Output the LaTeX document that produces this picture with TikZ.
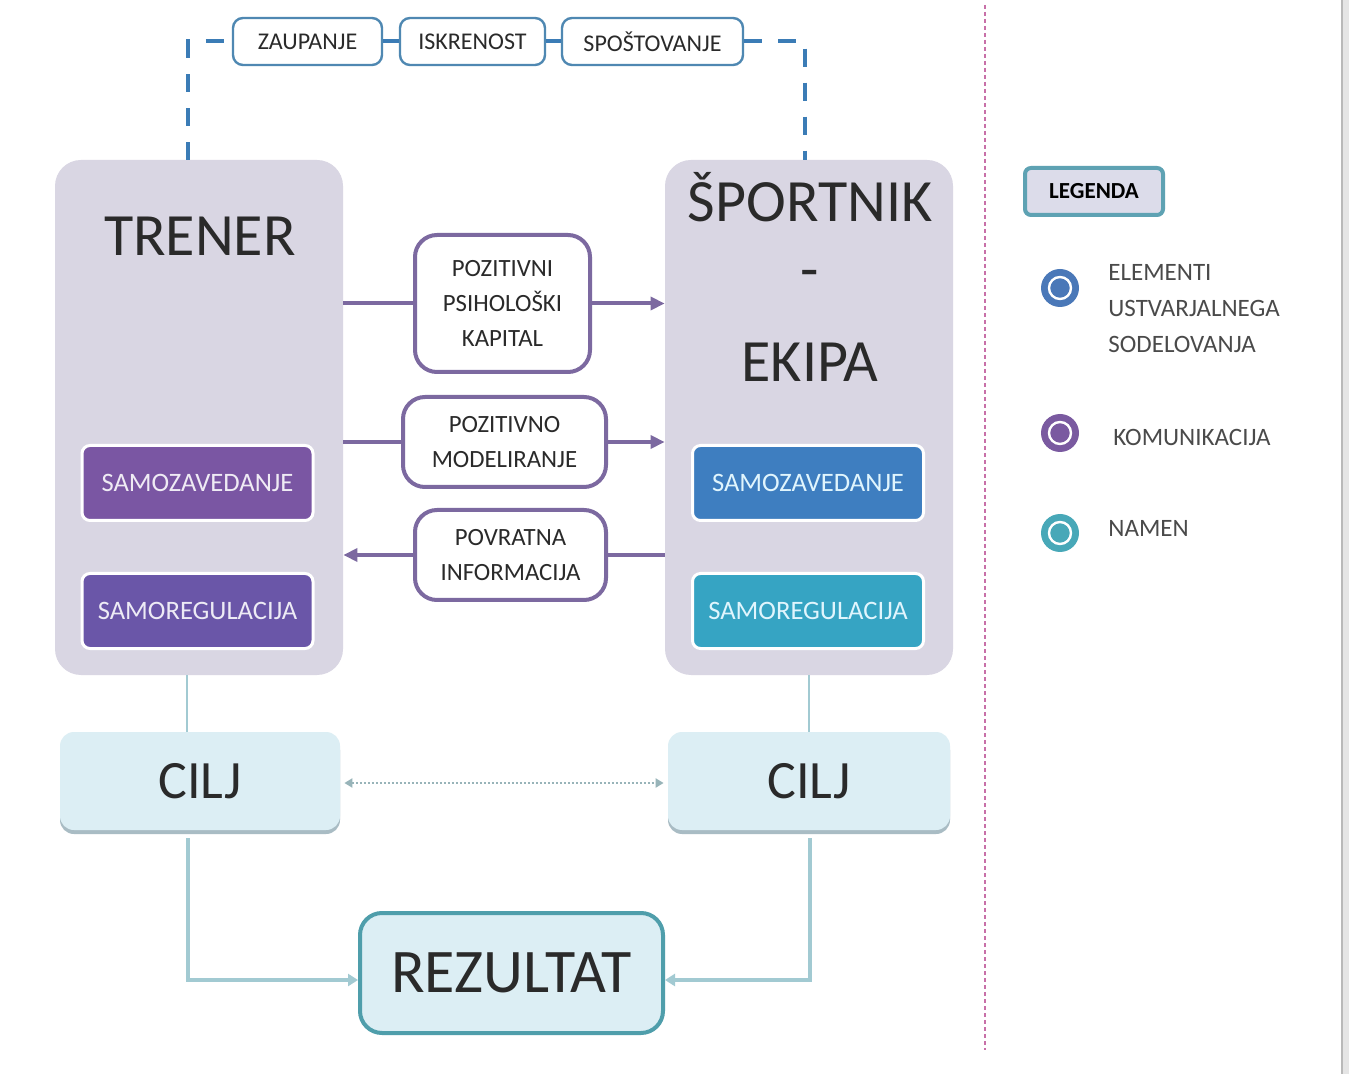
\documentclass[tikz,border=0pt]{standalone}
\usepackage{fontspec}
\setmainfont{Carlito}
\usetikzlibrary{arrows.meta,calc}
\definecolor{lav}{HTML}{D9D6E3}
\definecolor{purA}{HTML}{7A56A3}
\definecolor{purB}{HTML}{6A56A8}
\definecolor{bluA}{HTML}{3E7EC0}
\definecolor{tealA}{HTML}{36A4C3}
\definecolor{midb}{HTML}{7C69A0}
\definecolor{cilf}{HTML}{DCEEF4}
\definecolor{cils}{HTML}{A9BCC4}
\definecolor{ltc}{HTML}{A2CAD2}
\definecolor{topc}{HTML}{3B7CB6}
\definecolor{topb}{HTML}{4F88B2}
\definecolor{magd}{HTML}{C870A8}
\definecolor{rezb}{HTML}{4F9EAB}
\definecolor{legf}{HTML}{DCDCEA}
\definecolor{legb}{HTML}{5EA2B3}
\definecolor{txt}{HTML}{2A2A2A}
\definecolor{lgblue}{HTML}{4A78B8}
\definecolor{lgpur}{HTML}{7A5AA0}
\definecolor{lgteal}{HTML}{48A8B8}
\tikzset{
  bigbox/.style={rectangle, rounded corners=13pt, fill=lav, minimum width=144pt, minimum height=257.5pt},
  samo/.style={rectangle, rounded corners=4pt, draw=white, line width=1.5pt, minimum width=115.5pt, minimum height=37.5pt, font=\fontsize{13.3}{16}\selectfont},
  midbox/.style={rectangle, rounded corners=11pt, draw=midb, line width=2pt, fill=white, align=center, text=txt, font=\fontsize{12.4}{17.5}\selectfont},
  topbox/.style={rectangle, rounded corners=5pt, draw=topb, line width=1.2pt, fill=white, minimum height=23.5pt, font=\fontsize{12}{14}\selectfont, text=txt},
  ciljbox/.style={rectangle, rounded corners=7pt, fill=cilf, minimum width=140pt, minimum height=49pt, font=\fontsize{27}{30}\selectfont, text=txt,
     preaction={fill=cils, transform canvas={yshift=-2pt}}},
  bigtxt/.style={font=\fontsize{30}{40}\selectfont, text=txt, align=center},
  parr/.style={draw=midb, line width=2pt, -{Triangle[length=7pt,width=6.5pt]}},
  tdash/.style={draw=topc, line width=2pt, dash pattern=on 9pt off 8pt},
  tsolid/.style={draw=topc, line width=2pt},
  lt/.style={draw=ltc, line width=1pt},
  ltarr/.style={draw=ltc, line width=2pt, -{Triangle[length=5pt,width=6pt]}},
  dotarr/.style={draw=ltc!70!gray, line width=1pt, dash pattern=on 1pt off 1pt, {Triangle[length=4pt,width=4.5pt]}-{Triangle[length=4pt,width=4.5pt]}},
  legdot/.style={circle, fill=#1, minimum size=19pt, inner sep=0pt,
     path picture={\draw[white, line width=1.2pt] (path picture bounding box.center) circle (5.5pt);}},
  legtxt/.style={anchor=west, align=left, inner sep=0pt, text=txt!85, font=\fontsize{12.5}{18}\selectfont}
}
\begin{document}
\begin{tikzpicture}[x=0.5pt,y=-0.5pt]
\useasboundingbox (0,0) rectangle (1349,1074);
\fill[white] (0,0) rectangle (1349,1074);
\fill[gray!20] (1342,0) rectangle (1349,1074);
\draw[gray!55, line width=1pt] (1342,0) -- (1342,1074);

% main boxes
\node[bigbox] (trener) at (199,417.5) {};
\node[bigbox] (sport) at (809,417.5) {};
\node[bigtxt] (trenerT) at (200,236.5) {TRENER};
\node[bigtxt] (sportT) at (810,277) {ŠPORTNIK\\[-6pt]-\\[6pt]EKIPA};

\node[samo, fill=purA, text=white!88!purA] (sz1) at (197.5,483) {SAMOZAVEDANJE};
\node[samo, fill=purB, text=white!88!purB] (sr1) at (197.5,611) {SAMOREGULACIJA};
\node[samo, fill=bluA, text=white!88!cyan] (sz2) at (808,483) {SAMOZAVEDANJE};
\node[samo, fill=tealA, text=white!88!cyan] (sr2) at (808,611) {SAMOREGULACIJA};

% middle boxes
\node[midbox, minimum width=87.5pt, minimum height=68.5pt] (ppk) at (502.5,303.5) {POZITIVNI\\PSIHOLOŠKI\\KAPITAL};
\node[midbox, minimum width=101.5pt, minimum height=45pt] (pm) at (504.5,442) {POZITIVNO\\MODELIRANJE};
\node[midbox, minimum width=95.5pt, minimum height=45pt] (pi) at (510.5,555) {POVRATNA\\INFORMACIJA};

\draw[midb, line width=2pt] (trener.east |- ppk.west) -- (ppk.west);
\draw[parr] (ppk.east) -- (sport.west |- ppk.east);
\draw[midb, line width=2pt] (trener.east |- pm.west) -- (pm.west);
\draw[parr] (pm.east) -- (sport.west |- pm.east);
\draw[midb, line width=2pt] (sport.west |- pi.east) -- (pi.east);
\draw[parr] (pi.west) -- (trener.east |- pi.west);

% top boxes
\node[topbox, minimum width=74.5pt] (zau) at (307.5,41.5) {ZAUPANJE};
\node[topbox, minimum width=72.5pt] (isk) at (472.5,41.5) {ISKRENOST};
\node[topbox, minimum width=90.5pt] (spo) at (652.5,41.5) {SPOŠTOVANJE};
\draw[tdash] ([xshift=-5.5pt]trener.north) |- (zau.west);
\draw[tsolid] (zau.east) -- (isk.west);
\draw[tsolid] (isk.east) -- (spo.west);
\draw[tdash] (spo.east) -| ([xshift=-2pt]sport.north);

% CILJ
\node[ciljbox] (cilj1) at (200,781) {CILJ};
\node[ciljbox, minimum width=141pt] (cilj2) at (809,781) {CILJ};
\draw[lt] ([xshift=-6pt]trener.south) -- ([xshift=-6pt]trener.south |- cilj1.north);
\draw[lt] (sport.south) -- (sport.south |- cilj2.north);
\draw[dotarr, shorten <=2pt, shorten >=2pt] ([yshift=-1pt]cilj1.east) -- ([yshift=-1pt]cilj1.east -| cilj2.west);

% REZULTAT
\node[rectangle, rounded corners=11pt, draw=rezb, line width=2pt, fill=cilf, minimum width=151.5pt, minimum height=60pt, font=\fontsize{31}{34}\selectfont, text=txt] (rez) at (511.5,973) {REZULTAT};
\draw[ltarr] ([xshift=-6pt,yshift=-4pt]cilj1.south) |- ([yshift=-3.5pt]rez.west);
\draw[ltarr] ([xshift=0.5pt,yshift=-4pt]cilj2.south) |- ([yshift=-3.5pt]rez.east);

% separator
\coordinate (m1) at (985,5);
\coordinate (m2) at (985,1050);
\draw[magd, line width=1pt, dash pattern=on 2pt off 1.5pt] (m1) -- (m2);

% legend
\node[rectangle, rounded corners=3pt, draw=legb, line width=2pt, fill=legf, minimum width=69pt, minimum height=23.5pt, font=\fontsize{11.5}{13}\selectfont\bfseries, text=black] (leg) at (1094,191.5) {LEGENDA};
\node[legdot=lgblue] (d1) at (1060,288) {};
\node[legdot=lgpur] (d2) at (1060,433) {};
\node[legdot=lgteal] (d3) at (1060,533) {};
\node[legtxt] (t1) at (1108,309) {ELEMENTI\\USTVARJALNEGA\\SODELOVANJA};
\node[legtxt] (t2) at (1113,437) {KOMUNIKACIJA};
\node[legtxt] (t3) at (1108,528) {NAMEN};
\end{tikzpicture}
\end{document}
